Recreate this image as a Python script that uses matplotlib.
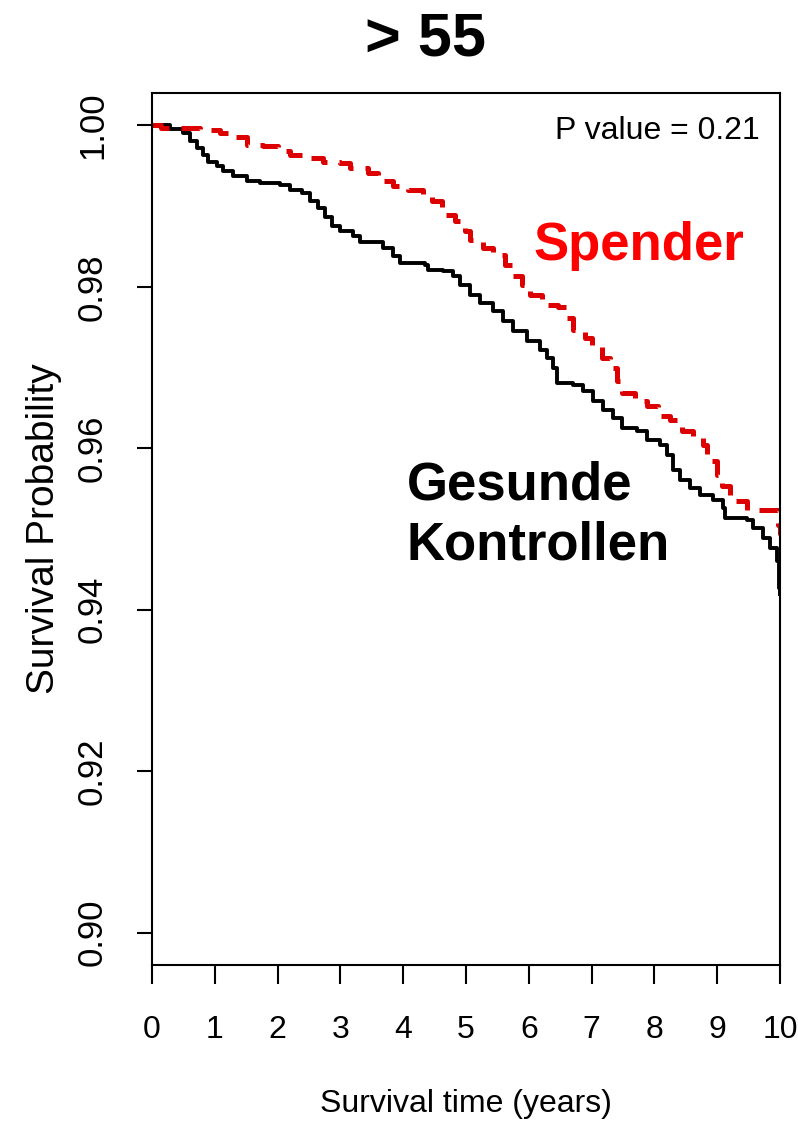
import numpy as np
import matplotlib
matplotlib.use("Agg")
import matplotlib.pyplot as plt

plt.rcParams['font.family'] = ['Liberation Sans', 'DejaVu Sans']

# Survival curves (step functions, years -> probability)
kontrollen_t = [0, 0.29, 0.49, 0.61, 0.72, 0.81, 0.89, 1.04, 1.13, 1.29, 1.51, 1.72,
                2.04, 2.20, 2.39, 2.52, 2.64, 2.75, 2.87, 2.99, 3.20, 3.31, 3.68, 3.84,
                3.95, 4.35, 4.39, 4.63, 4.79, 4.90, 5.06, 5.22, 5.43, 5.59, 5.75, 5.97,
                6.18, 6.29, 6.39, 6.45, 6.70, 6.86, 7.02, 7.18, 7.34, 7.48, 7.72, 7.88,
                8.09, 8.20, 8.30, 8.41, 8.57, 8.73, 8.93, 9.09, 9.12, 9.47, 9.57, 9.73,
                9.84, 9.95, 9.99, 10.0]
kontrollen_s = [1.0000, 0.9996, 0.9990, 0.9980, 0.9972, 0.9963, 0.9955, 0.9949, 0.9943,
                0.9937, 0.9931, 0.9928, 0.9926, 0.9920, 0.9916, 0.9906, 0.9897, 0.9887,
                0.9875, 0.9869, 0.9863, 0.9856, 0.9848, 0.9838, 0.9829, 0.9827, 0.9821,
                0.9819, 0.9813, 0.9802, 0.9790, 0.9780, 0.9770, 0.9757, 0.9745, 0.9733,
                0.9722, 0.9712, 0.9699, 0.9681, 0.9678, 0.9671, 0.9658, 0.9647, 0.9637,
                0.9625, 0.9621, 0.9610, 0.9604, 0.9592, 0.9573, 0.9561, 0.9551, 0.9542,
                0.9536, 0.9526, 0.9514, 0.9511, 0.9501, 0.9489, 0.9477, 0.9460, 0.9427,
                0.9420]

spender_t = [0, 0.15, 0.76, 1.08, 1.24, 1.51, 1.77, 2.01, 2.20, 2.52, 2.72, 2.99, 3.15,
             3.44, 3.60, 3.84, 4.08, 4.32, 4.46, 4.62, 4.82, 4.98, 5.06, 5.27, 5.43,
             5.62, 5.73, 5.89, 6.02, 6.21, 6.46, 6.61, 6.70, 6.89, 7.01, 7.17, 7.29,
             7.40, 7.48, 7.69, 7.88, 8.06, 8.25, 8.44, 8.61, 8.77, 8.84, 9.00, 9.08,
             9.20, 9.47, 9.97, 10.0]
spender_s = [1.0000, 0.9997, 0.9994, 0.9990, 0.9986, 0.9975, 0.9974, 0.9968, 0.9963,
             0.9959, 0.9955, 0.9953, 0.9947, 0.9941, 0.9931, 0.9925, 0.9920, 0.9913,
             0.9906, 0.9889, 0.9882, 0.9869, 0.9858, 0.9848, 0.9839, 0.9827, 0.9813,
             0.9802, 0.9790, 0.9777, 0.9775, 0.9761, 0.9746, 0.9736, 0.9727, 0.9712,
             0.9699, 0.9683, 0.9668, 0.9658, 0.9652, 0.9640, 0.9635, 0.9621, 0.9615,
             0.9604, 0.9584, 0.9567, 0.9553, 0.9535, 0.9524, 0.9505, 0.9493]

x_ticks = list(range(0, 11))
y_ticks = [0.90, 0.92, 0.94, 0.96, 0.98, 1.00]

fig = plt.figure(figsize=(7.98, 11.23), dpi=100)
ax = fig.add_axes([152 / 798, 1 - 965 / 1123, (780 - 152) / 798, (965 - 93) / 1123])

ax.step(kontrollen_t, kontrollen_s, where='post', color='black', lw=2.8)
ax.step(spender_t, spender_s, where='post', color='#dd0000', lw=3.6,
        linestyle=(0, (4, 2.4)))

ax.set_xlim(0, 10)
ax.set_ylim(0.896, 1.004)
ax.set_xticks(x_ticks)
ax.set_yticks(y_ticks)
ax.set_xticklabels([str(t) for t in x_ticks], fontsize=23)
ax.set_yticklabels([f"{v:.2f}" for v in y_ticks], fontsize=25, rotation=90, va='center')
ax.tick_params(axis='x', length=14, width=1.5, pad=22)
ax.tick_params(axis='y', length=11, width=1.5, pad=20)
for sp in ax.spines.values():
    sp.set_linewidth(1.5)

ax.set_xlabel('Survival time (years)', fontsize=23, labelpad=32)
ax.set_ylabel('Survival Probability', fontsize=28, labelpad=10)

ax.text(9.68, 0.99926, 'P value = 0.21', fontsize=23, ha='right', va='center')
ax.text(6.07, 0.985, 'Spender', fontsize=38, fontweight='bold', color='#ff0000',
        ha='left', va='center')
ax.text(4.06, 0.9554, 'Gesunde', fontsize=38, fontweight='bold', ha='left', va='center')
ax.text(4.06, 0.9479, 'Kontrollen', fontsize=38, fontweight='bold', ha='left', va='center')

fig.text(425 / 798, 1 - 40 / 1123, '> 55', fontsize=44, fontweight='bold',
         ha='center', va='center')

fig.savefig('out.png', dpi=100)
